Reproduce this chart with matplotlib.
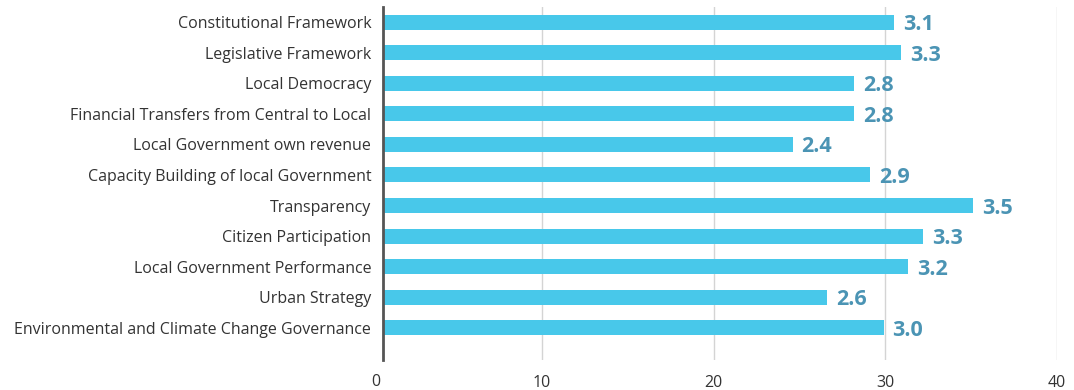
import matplotlib
matplotlib.use('Agg')
import matplotlib.pyplot as plt

categories = [
    'Constitutional Framework',
    'Legislative Framework',
    'Local Democracy',
    'Financial Transfers from Central to Local',
    'Local Government own revenue',
    'Capacity Building of local Government',
    'Transparency',
    'Citizen Participation',
    'Local Government Performance',
    'Urban Strategy',
    'Environmental and Climate Change Governance',
]
# bar lengths as read against the 0-40 axis
bar_lengths = [30.5, 30.9, 28.2, 28.2, 24.6, 29.1, 35.1, 32.2, 31.3, 26.6, 29.9]
# scores printed next to the bars
scores = ['3.1', '3.3', '2.8', '2.8', '2.4', '2.9', '3.5', '3.3', '3.2', '2.6', '3.0']
x_ticks = [10, 20, 30, 40]

plt.rcParams['font.family'] = ['Open Sans', 'DejaVu Sans']

fig = plt.figure(figsize=(10.74, 3.90), dpi=100)
ax = fig.add_axes([0.3566, 0.0769, 0.6276, 0.9051])

y = list(range(len(categories)))
ax.barh(y, bar_lengths, height=0.49, color='#48c8ea', zorder=2)

for yi, length, s in zip(y, bar_lengths, scores):
    ax.annotate(s, (length, yi), xytext=(6.5, -1.8), textcoords='offset points',
                ha='left', va='center', fontsize=15.5, fontweight='bold',
                color='#4b94b4')

ax.set_xlim(0.75, 40)
ax.set_ylim(len(categories) - 1 + 1.05, -0.49)
ax.set_yticks(y)
ax.set_yticklabels(categories, fontsize=11.5, color='#333333')
ax.set_xticks(x_ticks)
ax.set_xticklabels([str(t) for t in x_ticks], fontsize=11.5, color='#333333')
ax.text(0.35, -0.04, '0', transform=ax.get_xaxis_transform(), ha='center',
        va='top', fontsize=11.5, color='#333333')

ax.tick_params(axis='both', length=0)
ax.tick_params(axis='y', pad=8.5)
ax.tick_params(axis='x', pad=11)

ax.grid(axis='x', color='#d4d4d4', linewidth=1, zorder=0)
for side in ['top', 'right', 'bottom']:
    ax.spines[side].set_visible(False)
ax.spines['left'].set_color('#555555')
ax.spines['left'].set_linewidth(2)
ax.spines['left'].set_zorder(3)

fig.savefig('out.png', dpi=100, facecolor='white')
